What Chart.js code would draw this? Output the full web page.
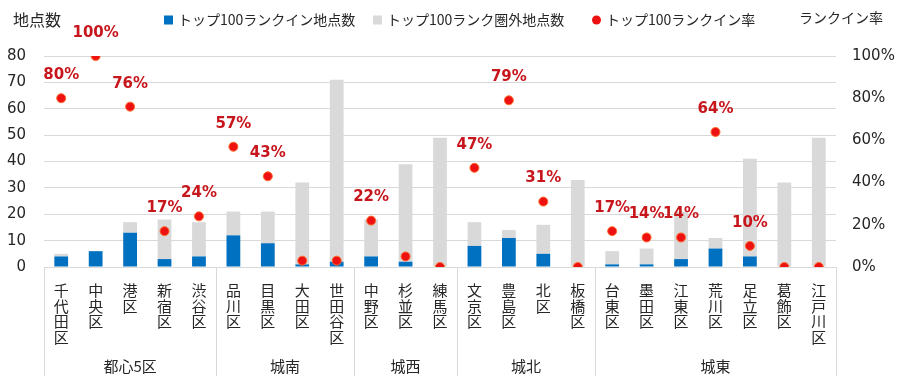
<!DOCTYPE html>
<html><head><meta charset="utf-8">
<script src="https://cdn.jsdelivr.net/npm/chart.js@4.4.1/dist/chart.umd.min.js"></script>
<style>html,body{margin:0;padding:0;background:#fff;}canvas{display:block;}</style>
</head><body>
<canvas id="c" width="900" height="376"></canvas>
<script>
// ---- data ----
const categories = ['千代田区','中央区','港区','新宿区','渋谷区','品川区','目黒区','大田区','世田谷区','中野区','杉並区','練馬区','文京区','豊島区','北区','板橋区','台東区','墨田区','江東区','荒川区','足立区','葛飾区','江戸川区'];
const inRank  = [4, 6, 13, 3, 4, 12, 9, 1, 2, 4, 2, 0, 8, 11, 5, 0, 1, 1, 3, 7, 4, 0, 0];
const outRank = [1, 0, 4, 15, 13, 9, 12, 31, 69, 14, 37, 49, 9, 3, 11, 33, 5, 6, 18, 4, 37, 32, 49];
const rate    = [80, 100, 76, 17, 24, 57, 43, 3, 3, 22, 5, 0, 47, 79, 31, 0, 17, 14, 14, 64, 10, 0, 0];
const groupNames = ['都心5区','城南','城西','城北','城東'];
const groupSizes = [5, 4, 3, 4, 7];
const seriesNames = ['トップ100ランクイン地点数','トップ100ランク圏外地点数','トップ100ランクイン率'];
const leftTitle = '地点数';
const rightTitle = 'ランクイン率';

const FONT_JP = '"Noto Sans CJK JP", sans-serif';
const FONT_NUM = '"DejaVu Sans", "Noto Sans CJK JP", sans-serif';
const BLUE = '#0070c0', GRAY = '#d9d9d9', RED = '#ee1111', LABEL_RED = '#c8161d', GRID = '#d9d9d9', TXT = '#262626';
const legendX = [164, 373, 592];

const overlay = {
  id: 'overlay',
  afterDatasetsDraw(chart) {
    const ctx = chart.ctx;
    const meta = chart.getDatasetMeta(2);
    ctx.save();
    ctx.font = 'bold 15px ' + FONT_NUM;
    ctx.fillStyle = LABEL_RED;
    ctx.textAlign = 'center';
    ctx.textBaseline = 'middle';
    meta.data.forEach((pt, i) => {
      if (rate[i] >= 10) ctx.fillText(rate[i] + '%', pt.x, pt.y - 23);
    });
    ctx.restore();
  },
  afterDraw(chart) {
    const ctx = chart.ctx;
    const xs = chart.scales.x;
    const area = chart.chartArea;
    const bound = (i) => {
      if (i <= 0) return area.left;
      if (i >= categories.length) return area.right;
      return (xs.getPixelForValue(i - 1) + xs.getPixelForValue(i)) / 2;
    };
    ctx.save();
    ctx.strokeStyle = GRID;
    ctx.lineWidth = 1;
    let idx = 0;
    const bounds = [0];
    groupSizes.forEach(n => { idx += n; bounds.push(idx); });
    bounds.forEach(b => {
      const x = Math.round(bound(b)) + 0.5;
      ctx.beginPath(); ctx.moveTo(x, area.bottom); ctx.lineTo(x, chart.height); ctx.stroke();
    });
    ctx.fillStyle = TXT;
    ctx.font = '15px ' + FONT_JP;
    ctx.textAlign = 'center';
    ctx.textBaseline = 'middle';
    groupNames.forEach((g, k) => {
      const x = (bound(bounds[k]) + bound(bounds[k + 1])) / 2;
      ctx.fillText(g, x, 366);
    });
    ctx.font = '16px ' + FONT_JP;
    ctx.fillText(leftTitle, 37, 20);
    ctx.font = '14px ' + FONT_JP;
    ctx.fillText(rightTitle, 841, 18);
    // legend
    ctx.font = '14px ' + FONT_JP;
    const ds = chart.data.datasets;
    const box = 9, tgap = 5, ly = 20;
    ds.forEach((d, i) => {
      const x = legendX[i];
      if (d.type === 'line') {
        ctx.fillStyle = RED;
        ctx.beginPath(); ctx.arc(x + box / 2, ly, 4.5, 0, Math.PI * 2); ctx.fill();
      } else {
        ctx.fillStyle = d.backgroundColor;
        ctx.fillRect(x, ly - box / 2, box, box);
      }
      ctx.fillStyle = TXT;
      ctx.textAlign = 'left';
      ctx.fillText(d.label, x + box + tgap, ly);
    });
    ctx.restore();
  }
};

new Chart(document.getElementById('c'), {
  data: {
    labels: categories.map(s => s.split('')),
    datasets: [
      { type: 'bar', label: seriesNames[0], data: inRank, backgroundColor: BLUE, stack: 's', yAxisID: 'y', order: 1,
        barPercentage: 0.4, categoryPercentage: 1.0 },
      { type: 'bar', label: seriesNames[1], data: outRank, backgroundColor: GRAY, stack: 's', yAxisID: 'y', order: 1,
        barPercentage: 0.4, categoryPercentage: 1.0 },
      { type: 'line', label: seriesNames[2], data: rate, yAxisID: 'y2', showLine: false, order: 0,
        pointRadius: 4.5, pointBackgroundColor: RED, pointBorderColor: '#ff6a2a', pointBorderWidth: 1 }
    ]
  },
  options: {
    responsive: false,
    animation: false,
    devicePixelRatio: 1,
    layout: { padding: { top: 56, left: 0, right: 0, bottom: 0 } },
    plugins: { legend: { display: false }, tooltip: { enabled: false } },
    scales: {
      x: {
        stacked: true,
        grid: { display: false },
        border: { display: true, color: GRID },
        ticks: { autoSkip: false, maxRotation: 0, minRotation: 0, padding: 8, color: TXT,
                 font: { family: FONT_JP, size: 15, lineHeight: 1.03 } },
        afterFit(s) { s.height = 109; }
      },
      y: {
        stacked: true, position: 'left', min: 0, max: 80,
        grid: { color: GRID, drawTicks: false },
        border: { display: false },
        ticks: { stepSize: 10, padding: 18, color: TXT, font: { family: FONT_NUM, size: 15 } },
        afterFit(s) { s.width = 44; }
      },
      y2: {
        position: 'right', min: 0, max: 100,
        grid: { display: false, drawTicks: false },
        border: { display: false },
        ticks: { stepSize: 20, padding: 16, color: TXT, font: { family: FONT_NUM, size: 15 },
                 callback: v => v + '%' },
        afterFit(s) { s.width = 64; }
      }
    }
  },
  plugins: [overlay]
});
</script>
</body></html>
